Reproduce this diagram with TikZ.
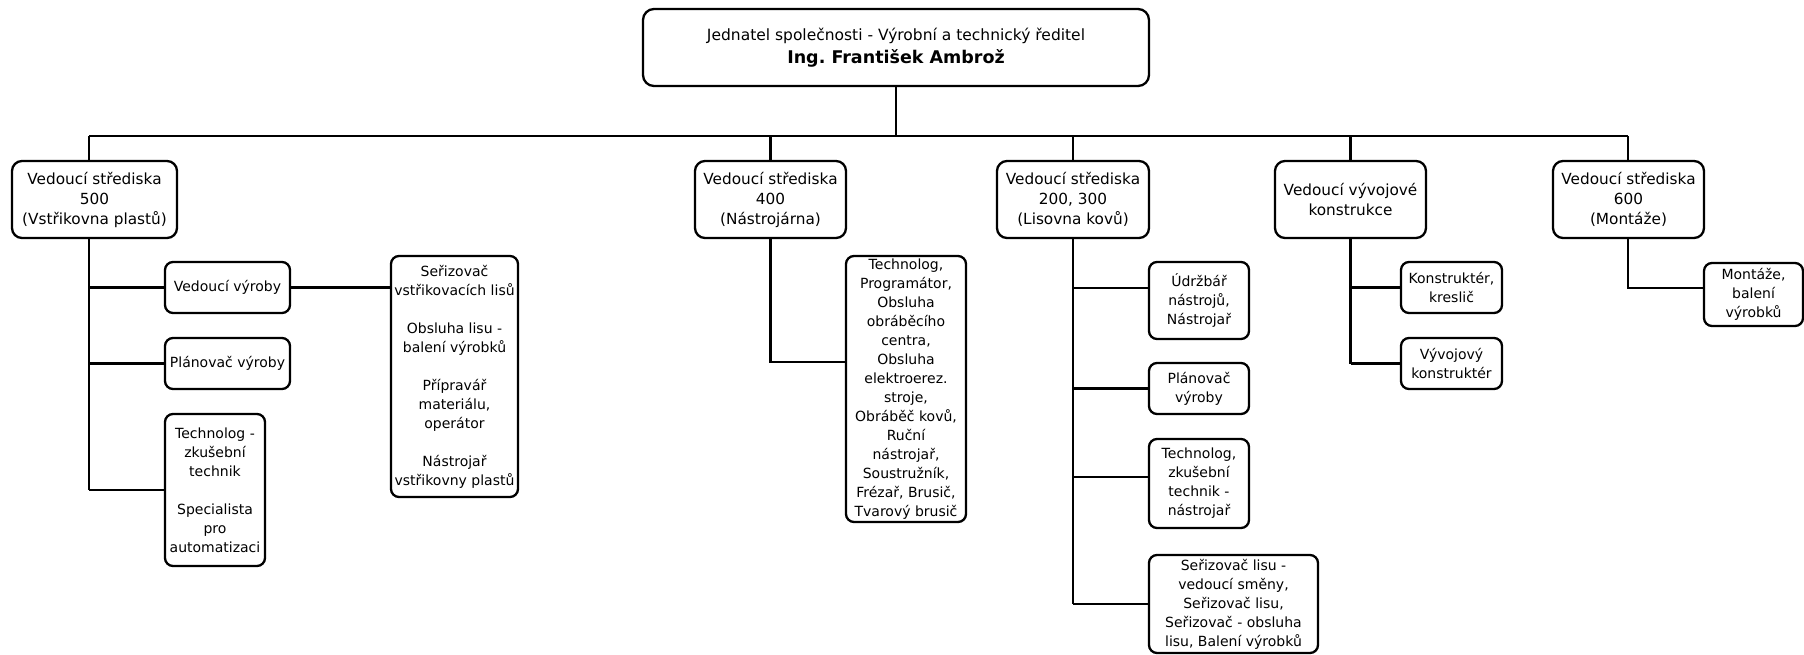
\documentclass[tikz,border=0pt]{standalone}
\usepackage{fontspec}
\setmainfont{DejaVu Sans}
\frenchspacing
\begin{document}
\begin{tikzpicture}[x=1pt,y=-1pt,line width=2.3pt,
  box/.style={draw, rounded corners=8pt, inner sep=0pt, align=center, font=\fontsize{14}{19}\selectfont},
  head/.style={box, rounded corners=10pt, minimum width=151pt, minimum height=77pt, font=\fontsize{15.3}{20}\selectfont},
  ]
\useasboundingbox (0,0) rectangle (1804,654);
% top
\node[box, rounded corners=11pt, minimum width=506pt, minimum height=77pt, font=\fontsize{15.5}{23}\selectfont] (top) at (896,47.5)
  {Jednatel společnosti - Výrobní a technický ředitel\\\fontsize{17.5}{23}\selectfont\bfseries Ing.\ František Ambrož};
% level 2
\node[head, minimum width=165pt] (b500) at (94.5,199.5) {Vedoucí střediska\\500\\(Vstřikovna plastů)};
\node[head] (b400) at (770.5,199.5) {Vedoucí střediska\\400\\(Nástrojárna)};
\node[head, minimum width=152pt] (b200) at (1073,199.5) {Vedoucí střediska\\200, 300\\(Lisovna kovů)};
\node[head] (bvv) at (1350.5,199.5) {Vedoucí vývojové\\konstrukce};
\node[head] (b600) at (1628.5,199.5) {Vedoucí střediska\\600\\(Montáže)};
% 500 children
\node[box, minimum width=125pt, minimum height=51pt] (vv) at (227.5,287.5) {Vedoucí výroby};
\node[box, minimum width=125pt, minimum height=51pt] (pv) at (227.5,363.5) {Plánovač výroby};
\node[box, minimum width=100pt, minimum height=152pt] (tz) at (215,490)
  {Technolog -\\zkušební\\technik\\[19pt]Specialista\\pro\\automatizaci};
\node[box, minimum width=127pt, minimum height=241pt] (ser) at (454.5,376.5)
  {Seřizovač\\vstřikovacích lisů\\[19pt]Obsluha lisu -\\balení výrobků\\[19pt]Přípravář\\materiálu,\\operátor\\[19pt]Nástrojař\\vstřikovny plastů};
% 400 child
\node[box, minimum width=120pt, minimum height=266pt] (tp) at (906,389)
  {Technolog,\\Programátor,\\Obsluha\\obráběcího\\centra,\\Obsluha\\elektroerez.\\stroje,\\Obráběč kovů,\\Ruční\\nástrojař,\\Soustružník,\\Frézař, Brusič,\\Tvarový brusič};
% 200,300 children
\node[box, minimum width=100pt, minimum height=77pt] (ud) at (1199,300.5) {Údržbář\\nástrojů,\\Nástrojař};
\node[box, minimum width=100pt, minimum height=51pt] (pl) at (1199,388.5) {Plánovač\\výroby};
\node[box, minimum width=100pt, minimum height=89pt] (te) at (1199,483.5) {Technolog,\\zkušební\\technik -\\nástrojař};
\node[box, minimum width=169pt, minimum height=98pt] (sl) at (1233.5,604)
  {Seřizovač lisu -\\vedoucí směny,\\Seřizovač lisu,\\Seřizovač - obsluha\\lisu, Balení výrobků};
% vyvoj children
\node[box, minimum width=101pt, minimum height=51pt] (kk) at (1451.5,287.5) {Konstruktér,\\kreslič};
\node[box, minimum width=101pt, minimum height=51pt] (vk) at (1451.5,363.5) {Vývojový\\konstruktér};
% 600 child
\node[box, minimum width=99pt, minimum height=63pt] (mb) at (1753.5,294.5) {Montáže,\\balení\\výrobků};
% coordinates
\coordinate (busL) at (89,136);
\coordinate (busR) at (1628,136);
\coordinate (y288) at (0,288);
\coordinate (y362) at (0,362);
\coordinate (y477) at (0,477);
% connectors
\draw (top) -- (top |- busL);
\draw (busL) -- (busR);
\draw (busL) -- (busL |- b500.north);
\draw (b400 |- busL) -- (b400);
\draw (b200 |- busL) -- (b200);
\draw (bvv |- busL) -- (bvv);
\draw (busR) -- (busR |- b600.north);
% 500 subtree
\draw (busL |- b500.south) -- (busL |- tz);
\draw (busL |- vv) -- (vv);
\draw (busL |- pv) -- (pv);
\draw (busL |- tz) -- (tz);
\draw (vv) -- (vv -| ser.west);
% 400 subtree
\draw (b400) -- (b400 |- y362) -- (tp.west |- y362);
% 200 subtree
\draw (b200) -- (b200 |- sl);
\draw (b200 |- y288) -- (ud.west |- y288);
\draw (b200 |- pl) -- (pl);
\draw (b200 |- y477) -- (te.west |- y477);
\draw (b200 |- sl) -- (sl);
% vyvoj subtree
\draw (bvv) -- (bvv |- vk);
\draw (bvv |- kk) -- (kk);
\draw (bvv |- vk) -- (vk);
% 600 subtree
\draw (busR |- b600.south) -- (busR |- y288) -- (mb.west |- y288);
\end{tikzpicture}
\end{document}
